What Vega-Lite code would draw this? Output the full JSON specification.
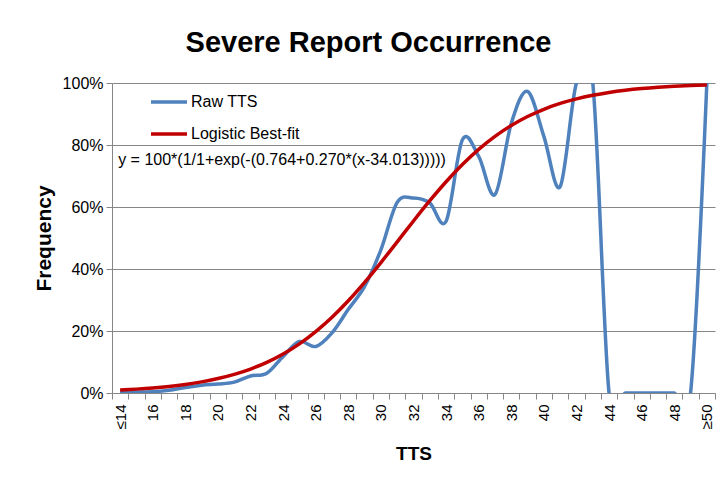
{
  "$schema": "https://vega.github.io/schema/vega-lite/v6.json",
  "width": 603,
  "height": 310,
  "autosize": {"type": "none"},
  "padding": {"left": 112, "top": 83, "right": 12, "bottom": 100},
  "background": "white",
  "config": {"view": {"stroke": null}, "font": "Liberation Sans"},
  "title": {"text": "Severe Report Occurrence", "fontSize": 29, "fontWeight": "bold", "font": "Liberation Sans", "frame": "group", "anchor": "middle", "baseline": "alphabetic", "offset": -6, "dx": -45, "color": "#000000"},
  "data": {"values": [
    {"tts": 14, "series": "Raw TTS", "value": 0.006},
    {"tts": 15, "series": "Raw TTS", "value": 0.003},
    {"tts": 16, "series": "Raw TTS", "value": 0.004},
    {"tts": 17, "series": "Raw TTS", "value": 0.009},
    {"tts": 18, "series": "Raw TTS", "value": 0.018},
    {"tts": 19, "series": "Raw TTS", "value": 0.025},
    {"tts": 20, "series": "Raw TTS", "value": 0.029},
    {"tts": 21, "series": "Raw TTS", "value": 0.035},
    {"tts": 22, "series": "Raw TTS", "value": 0.055},
    {"tts": 23, "series": "Raw TTS", "value": 0.064},
    {"tts": 24, "series": "Raw TTS", "value": 0.118},
    {"tts": 25, "series": "Raw TTS", "value": 0.166},
    {"tts": 26, "series": "Raw TTS", "value": 0.150},
    {"tts": 27, "series": "Raw TTS", "value": 0.194},
    {"tts": 28, "series": "Raw TTS", "value": 0.270},
    {"tts": 29, "series": "Raw TTS", "value": 0.344},
    {"tts": 30, "series": "Raw TTS", "value": 0.462},
    {"tts": 31, "series": "Raw TTS", "value": 0.615},
    {"tts": 32, "series": "Raw TTS", "value": 0.629},
    {"tts": 33, "series": "Raw TTS", "value": 0.613},
    {"tts": 34, "series": "Raw TTS", "value": 0.554},
    {"tts": 35, "series": "Raw TTS", "value": 0.817},
    {"tts": 36, "series": "Raw TTS", "value": 0.763},
    {"tts": 37, "series": "Raw TTS", "value": 0.640},
    {"tts": 38, "series": "Raw TTS", "value": 0.870},
    {"tts": 39, "series": "Raw TTS", "value": 0.973},
    {"tts": 40, "series": "Raw TTS", "value": 0.828},
    {"tts": 41, "series": "Raw TTS", "value": 0.666},
    {"tts": 42, "series": "Raw TTS", "value": 1.0},
    {"tts": 43, "series": "Raw TTS", "value": 1.0},
    {"tts": 44, "series": "Raw TTS", "value": 0},
    {"tts": 45, "series": "Raw TTS", "value": 0},
    {"tts": 46, "series": "Raw TTS", "value": 0},
    {"tts": 47, "series": "Raw TTS", "value": 0},
    {"tts": 48, "series": "Raw TTS", "value": 0},
    {"tts": 49, "series": "Raw TTS", "value": 0},
    {"tts": 50, "series": "Raw TTS", "value": 1.0},
    {"tts": 14, "series": "Logistic Best-fit", "value": 0.0096},
    {"tts": 15, "series": "Logistic Best-fit", "value": 0.0125},
    {"tts": 16, "series": "Logistic Best-fit", "value": 0.0163},
    {"tts": 17, "series": "Logistic Best-fit", "value": 0.0213},
    {"tts": 18, "series": "Logistic Best-fit", "value": 0.0277},
    {"tts": 19, "series": "Logistic Best-fit", "value": 0.0359},
    {"tts": 20, "series": "Logistic Best-fit", "value": 0.0466},
    {"tts": 21, "series": "Logistic Best-fit", "value": 0.0601},
    {"tts": 22, "series": "Logistic Best-fit", "value": 0.0773},
    {"tts": 23, "series": "Logistic Best-fit", "value": 0.0989},
    {"tts": 24, "series": "Logistic Best-fit", "value": 0.1257},
    {"tts": 25, "series": "Logistic Best-fit", "value": 0.1585},
    {"tts": 26, "series": "Logistic Best-fit", "value": 0.1979},
    {"tts": 27, "series": "Logistic Best-fit", "value": 0.2442},
    {"tts": 28, "series": "Logistic Best-fit", "value": 0.2974},
    {"tts": 29, "series": "Logistic Best-fit", "value": 0.3568},
    {"tts": 30, "series": "Logistic Best-fit", "value": 0.4208},
    {"tts": 31, "series": "Logistic Best-fit", "value": 0.4876},
    {"tts": 32, "series": "Logistic Best-fit", "value": 0.5549},
    {"tts": 33, "series": "Logistic Best-fit", "value": 0.6202},
    {"tts": 34, "series": "Logistic Best-fit", "value": 0.6815},
    {"tts": 35, "series": "Logistic Best-fit", "value": 0.7370},
    {"tts": 36, "series": "Logistic Best-fit", "value": 0.7859},
    {"tts": 37, "series": "Logistic Best-fit", "value": 0.8278},
    {"tts": 38, "series": "Logistic Best-fit", "value": 0.8630},
    {"tts": 39, "series": "Logistic Best-fit", "value": 0.8919},
    {"tts": 40, "series": "Logistic Best-fit", "value": 0.9153},
    {"tts": 41, "series": "Logistic Best-fit", "value": 0.9341},
    {"tts": 42, "series": "Logistic Best-fit", "value": 0.9489},
    {"tts": 43, "series": "Logistic Best-fit", "value": 0.9605},
    {"tts": 44, "series": "Logistic Best-fit", "value": 0.9696},
    {"tts": 45, "series": "Logistic Best-fit", "value": 0.9766},
    {"tts": 46, "series": "Logistic Best-fit", "value": 0.9820},
    {"tts": 47, "series": "Logistic Best-fit", "value": 0.9862},
    {"tts": 48, "series": "Logistic Best-fit", "value": 0.9894},
    {"tts": 49, "series": "Logistic Best-fit", "value": 0.9919},
    {"tts": 50, "series": "Logistic Best-fit", "value": 0.9938}
  ]},
  "encoding": {
    "x": {"field": "tts", "type": "ordinal", "title": "TTS",
      "scale": {"type": "band", "paddingInner": 0, "paddingOuter": 0},
      "axis": {"tickBand": "extent", "labelAngle": 270, "labelExpr": "datum.value == 14 ? '≤14' : (datum.value == 50 ? '≥50' : (datum.value % 2 == 0 ? datum.label : ''))",
        "domainColor": "#868686", "tickColor": "#868686", "tickSize": 6, "labelPadding": 5, "labelFontSize": 15, "labelColor": "#000000", "labelFont": "Liberation Sans",
        "titleFontSize": 19, "titleFontWeight": "bold", "titleColor": "#000000", "titlePadding": 16, "grid": false}},
    "y": {"field": "value", "type": "quantitative", "title": "Frequency",
      "scale": {"domain": [0, 1], "nice": false},
      "axis": {"format": ".0%", "values": [0, 0.2, 0.4, 0.6, 0.8, 1], "grid": true, "gridColor": "#868686", "domainColor": "#868686", "tickColor": "#868686", "tickSize": 6, "labelPadding": 3, "labelFontSize": 16, "labelColor": "#000000",
        "titleFontSize": 21, "titleFontWeight": "bold", "titleColor": "#000000", "titlePadding": 8}},
    "color": {"field": "series", "type": "nominal",
      "scale": {"domain": ["Raw TTS", "Logistic Best-fit"], "range": ["#4f81bd", "#c00000"]},
      "legend": {"orient": "none", "legendX": 37, "legendY": -1, "title": null, "symbolType": "stroke", "symbolSize": 1296, "symbolStrokeWidth": 3.5, "labelFontSize": 16, "labelColor": "#000000", "labelOffset": 2, "rowPadding": 4}}
  },
  "layer": [
    {"transform": [{"filter": "datum.series == 'Raw TTS'"}],
     "mark": {"type": "line", "interpolate": "cardinal", "clip": true, "strokeWidth": 3.5}},
    {"transform": [{"filter": "datum.series == 'Logistic Best-fit'"}],
     "mark": {"type": "line", "interpolate": "cardinal", "clip": true, "strokeWidth": 3.5}},
    {"transform": [{"filter": "datum.series == 'Raw TTS' && datum.tts == 14"}],
     "mark": {"type": "text", "align": "left", "baseline": "middle", "dx": -2, "fontSize": 16, "color": "#000000"},
     "encoding": {"y": {"datum": 0.752}, "text": {"value": "y = 100*(1/1+exp(-(0.764+0.270*(x-34.013)))))"}, "color": {"value": "#000000"}}}
  ]
}
